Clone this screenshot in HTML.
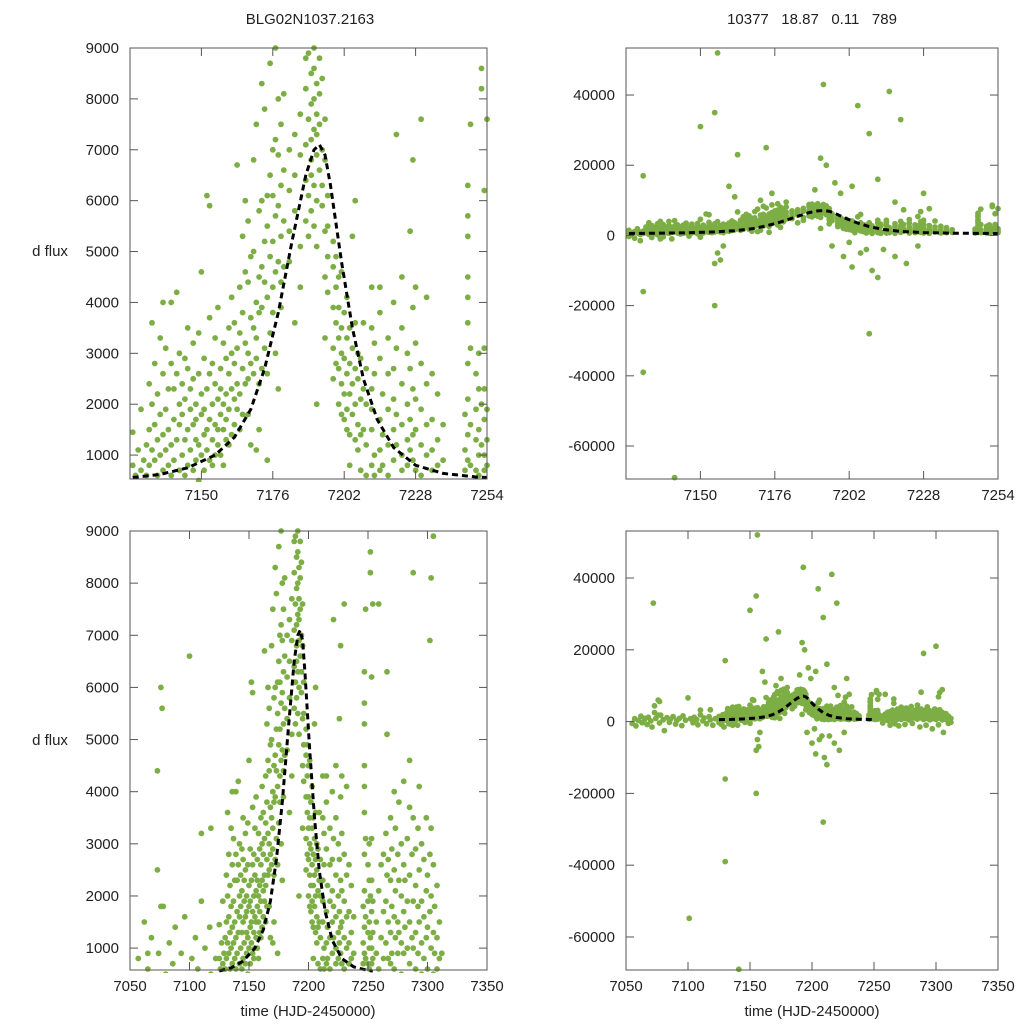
<!DOCTYPE html>
<html><head><meta charset="utf-8"><style>
html,body{margin:0;padding:0;background:#fff;overflow:hidden;width:1024px;height:1024px;}
svg{display:block;}
svg text{font-family:"Liberation Sans",sans-serif;font-size:15px;fill:#222;}
</style></head><body>
<svg id="fig" width="1024" height="1024" xmlns="http://www.w3.org/2000/svg">
<text x="310" y="24" text-anchor="middle">BLG02N1037.2163</text>
<text x="812" y="24" text-anchor="middle" xml:space="preserve">10377   18.87   0.11   789</text>
<text x="50" y="256" text-anchor="middle">d flux</text>
<text x="50" y="745" text-anchor="middle">d flux</text>
<text x="308" y="1016" text-anchor="middle">time (HJD-2450000)</text>
<text x="812" y="1016" text-anchor="middle">time (HJD-2450000)</text>
</svg>
<script>
const obsGroups=[
[7055,[-500]],[7057,[800]],[7058,[-1200]],[7060,[300]],[7062,[1500]],[7063,[-300]],[7065,[600,900]],[7067,[-800]],[7068,[1200]],[7070,[200]],[7071,[-1500]],[7072,[33000]],[7073,[4400,2500]],[7074,[900]],[7076,[6000,1800]],[7077,[-400,5600]],[7078,[1800]],[7080,[500]],[7081,[-2500]],[7083,[1100]],[7085,[-200]],[7086,[700]],[7088,[1400]],[7090,[-700]],[7091,[300]],[7093,[900]],[7095,[-1100]],[7096,[1600]],[7098,[400]],[7100,[6600]],[7101,[-54800]],[7102,[800]],[7104,[-300]],[7105,[1200]],[7107,[600]],[7108,[-900]],[7110,[1900,3200]],[7112,[200]],[7113,[1000]],[7115,[-600]],[7117,[1400]],[7118,[500,3300]],[7120,[-1000]],[7122,[800]],
[7125,[1450,800,-300]],[7126,[600,200]],[7127,[1100,-800]],[7128,[700,1900]],[7129,[300,900,-1500]],[7130,[1200,-16000,17000,-39000,600]],[7131,[2400,1500,800]],[7132,[3600,1100,2000,300]],[7133,[900,1600,2800,-600]],[7134,[1300,2200,600]],[7135,[3300,1800,1000,200]],[7136,[4000,2600,1400,700,-1000]],[7137,[1900,1100,3100,-400]],[7138,[2300,800,1500]],[7139,[4000,2800,1200,600]],[7140,[1700,2300,900,-1000]],[7141,[4200,1300,2600,-69000]],[7142,[2000,700,1600,3000]],[7143,[1000,2400,1800,400]],[7144,[2900,1300,600,2100]],[7145,[1500,2700,3500,800]],[7146,[1100,1900,2300,-200]],[7147,[3200,1600,700,2500]],[7148,[1300,2000,900,1700]],[7149,[2600,1200,3400,500]],[7150,[1800,1000,2200,4600,31000,-500]],[7151,[1400,2900,700,1900]],[7152,[6100,2300,1500,1100]],[7153,[5900,1700,2600,900,3700]],[7154,[1300,2000,800,2800]],[7155,[2400,1600,3300,1000,35000,-20000,-8000]],[7156,[52000,2100,1500,1200,3900,-5000]],[7157,[2700,1800,1000,2300,-7000]],[7158,[1500,3200,2000,800,-3000]],[7159,[2200,1300,2900,1700]],[7160,[2600,1900,3500,1200,14000]],[7161,[1400,2300,3000,4100]],[7162,[2800,1600,3600,2100,11000]],[7163,[6700,2400,3100,1900,23000]],[7164,[3400,2200,4300,1500]],[7165,[2700,3800,1800,5300]],[7166,[3200,2400,4600,6000]],[7167,[4400,3000,2500,5600,1800]],[7168,[2800,4900,3700,1200]],[7169,[3500,6800,2600,5000]],[7170,[4000,3300,7500,2900,1100]],[7171,[4500,5800,3800,2400,1500,10000]],[7172,[8300,3900,6000,2700,4700]],[7173,[5200,7800,3100,25000,4400]],[7174,[6100,4100,2600,5500,900]],[7175,[8700,6500,4900,3400,12000]],[7176,[7000,5200,4300,6100,3800]],[7177,[9000,5700,4600,7200,3000]],[7178,[5900,6900,4800,8000,2300]],[7179,[6300,5300,7500,3900,4400]],[7180,[4700,6600,5600,8100,9500]],[7182,[6200,4800,7000,5400]],[7184,[7300,5800,6500,3600]],[7186,[5100,6900,4300,7700]],[7188,[8200,6400,5600,7100,8800]],[7189,[8900,7600,6100,5300]],[7190,[7900,6800,8500,5800,7200,6500,13000]],[7191,[8600,7400,6300,9000,5500,8000]],[7192,[7700,8300,6900,6000,5100,7300,2000,22000]],[7193,[8800,7500,6600,43000,8100]],[7194,[7000,5900,8400,6300,20000]],[7195,[6800,5400,7600,4500,3300]],[7196,[6100,4900,5500,4200,-3000]],[7197,[15000]],[7198,[4700,3900,5200,3100,2500]],[7199,[4300,3600,4900,2800,12000]],[7200,[3900,3300,4500,2700,2000,-6000]],[7201,[4600,3500,3000,2400,1800]],[7202,[3800,2900,2200,1700,-2000]],[7203,[3300,2600,1900,4100,1500,-9000,14000]],[7204,[2800,2200,3500,1400,800]],[7205,[3100,2400,1800,37000,5300]],[7206,[6000,2700,2000,1300,3600,-5000]],[7207,[2500,1600,3000,1100]],[7208,[2900,2100,1400,700,-4000]],[7209,[29000,-28000,2300,1500,3600]],[7210,[2000,1200,2700,600,-10000]],[7212,[3500,2300,1500,800,4300,1900,-12000,16000]],[7213,[2600,1000,3200,600]],[7214,[-4000]],[7215,[4300,2900,1700,1100,700,3800]],[7216,[41000,2200,1400,800]],[7218,[3300,1900,1200,600,2600,-6000,9500]],[7220,[33000,4000,2700,1500,900,2100]],[7221,[7300,3100,1800,1200]],[7222,[-8000]],[7223,[4500,3500,2400,1600,1000,700]],[7225,[3000,2000,1300,800]],[7226,[5400,2700,1700,1100,-3000]],[7227,[6800,3900,2300,1400,900]],[7228,[3200,2100,1500,700,4300,12000]],[7230,[7600,2800,1900,1200,600]],[7232,[4100,2400,1600,1000]],[7234,[2600,1700,1100,700]],[7236,[2200,1300,800]],[7238,[1600,900]],[7246,[1800,1100,700]],[7247,[6300,5700,5300,4500,4100,3600,2800,2100,1400,900]],[7248,[7500,3100,1600,800]],[7250,[2600,1900,1300,700]],[7251,[3000,2300,1500,1000,600]],[7252,[8600,8200,2000,1200]],[7253,[6200,3100,2300,1700,1000,700]],[7254,[7600,1900,1300,800]],
[7257,[1500,900,-400]],[7259,[7600,2100,600]],[7261,[1200,300,2600]],[7263,[2800,1700,800,-1000]],[7265,[1900,1100,3200,400]],[7266,[6300,5100,2400]],[7267,[1500,800,2700,-600]],[7269,[2300,1300,3500,700]],[7270,[1800,900,2900,-1200]],[7272,[2500,1600,4000,600]],[7273,[1200,2100,3300]],[7275,[2800,1500,900,-800]],[7276,[3800,2300,1300]],[7278,[2000,1100,3000,500]],[7280,[2600,1700,4200,900]],[7281,[1400,2300,-500]],[7283,[3100,1900,1000]],[7285,[2400,1500,3700,700,4600]],[7287,[2800,1200,-1500]],[7288,[8200,3500,1900,1000]],[7290,[2200,1300,2900,600,19000]],[7292,[3300,1800,900,-1000]],[7293,[2500,1500,4100]],[7295,[1900,1100,3000,500]],[7297,[2700,1600,800,-2000]],[7299,[3500,2100,1200]],[7300,[21000,2400,1400,600]],[7302,[6900,2800,1700,-900]],[7303,[8100,2000,1000,3300]],[7305,[8900,2600,1300,500]],[7306,[1800,900,-3000]],[7308,[2200,1200,600]],[7310,[1500,800,-500]],[7312,[900,-200]]
];
const modelTime=[7125,7135,7145,7155,7162,7168,7173,7178,7183,7188,7191,7193,7195,7197,7201,7205,7209,7214,7220,7228,7238,7250,7254];
const modelFlux=[560,620,750,1000,1350,1900,2700,3800,5200,6500,7000,7100,6900,6300,4800,3500,2500,1700,1150,800,640,570,560];
const tickTimeTop=[7150,7176,7202,7228,7254];
const tickTimeBottom=[7050,7100,7150,7200,7250,7300,7350];
const tickFluxLeft=[1000,2000,3000,4000,5000,6000,7000,8000,9000];
const tickFluxRight=[-60000,-40000,-20000,0,20000,40000];

const NS='http://www.w3.org/2000/svg';
const svg=document.getElementById('fig');
function mk(tag,attrs,parent){const e=document.createElementNS(NS,tag);for(const k in attrs)e.setAttribute(k,attrs[k]);(parent||svg).appendChild(e);return e;}
const panels=[
{id:'top-left',x0:130,x1:487,y0:48,y1:479,xd:[7124,7254],yd:[530,9000],xt:tickTimeTop,yt:tickFluxLeft,mt:[7124,7254]},
{id:'top-right',x0:626,x1:998,y0:48,y1:479,xd:[7124,7254],yd:[-69400,53400],xt:tickTimeTop,yt:tickFluxRight,mt:[7124,7254]},
{id:'bottom-left',x0:130,x1:487,y0:531,y1:970,xd:[7050,7350],yd:[580,9000],xt:tickTimeBottom,yt:tickFluxLeft,mt:[7124,7265]},
{id:'bottom-right',x0:626,x1:998,y0:531,y1:970,xd:[7050,7350],yd:[-69200,53100],xt:tickTimeBottom,yt:tickFluxRight,mt:[7124,7250]}
];
panels.forEach(p=>{
  const sx=t=>p.x0+(t-p.xd[0])/(p.xd[1]-p.xd[0])*(p.x1-p.x0);
  const sy=f=>p.y1-(f-p.yd[0])/(p.yd[1]-p.yd[0])*(p.y1-p.y0);
  const g=mk('g',{});
  
  
  const cp=mk('clipPath',{id:'clip-'+p.id},g);
  mk('rect',{x:p.x0-3,y:p.y0-3,width:p.x1-p.x0+6,height:p.y1-p.y0+6},cp);
  const pts=mk('g',{'clip-path':'url(#clip-'+p.id+')',fill:'#7dae45'},g);
  
  
  const ylo=p.yd[0]-(p.yd[1]-p.yd[0])*0.01, yhi=p.yd[1]+(p.yd[1]-p.yd[0])*0.01;
  obsGroups.forEach(([t,fs])=>{
    if(t<p.xd[0]-1||t>p.xd[1]+1)return;
    fs.forEach(f=>{
      if(f<ylo||f>yhi)return;
      const c=mk('circle',{cx:sx(t).toFixed(1),cy:sy(f).toFixed(1),r:2.9},pts);
      
      
    });
  });
  let d='';
  modelTime.forEach((t,i)=>{if(t<p.mt[0]||t>p.mt[1])return;d+=(d?'L':'M')+sx(t).toFixed(1)+','+sy(modelFlux[i]).toFixed(1);});
  const ln=mk('path',{d:d,fill:'none',stroke:'#000','stroke-width':3,'stroke-dasharray':'6 4','clip-path':'url(#clip-'+p.id+')'},g);
  
  
  const fr=mk('rect',{x:p.x0,y:p.y0,width:p.x1-p.x0,height:p.y1-p.y0,fill:'none',stroke:'#555','stroke-width':1},g);
  
  
  p.xt.forEach(t=>{
    const x=sx(t);
    mk('line',{x1:x,x2:x,y1:p.y1,y2:p.y1-8,stroke:'#555'},g);
    mk('line',{x1:x,x2:x,y1:p.y0,y2:p.y0+8,stroke:'#555'},g);
    const tx=mk('text',{x:x,y:p.y1+21,'text-anchor':'middle'},g);tx.textContent=t;
    
    
  });
  p.yt.forEach(f=>{
    const y=sy(f);
    mk('line',{x1:p.x0,x2:p.x0+8,y1:y,y2:y,stroke:'#555'},g);
    mk('line',{x1:p.x1,x2:p.x1-8,y1:y,y2:y,stroke:'#555'},g);
    const tx=mk('text',{x:p.x0-11,y:y+5,'text-anchor':'end'},g);tx.textContent=f;
    
    
  });
});
</script>
</body></html>
